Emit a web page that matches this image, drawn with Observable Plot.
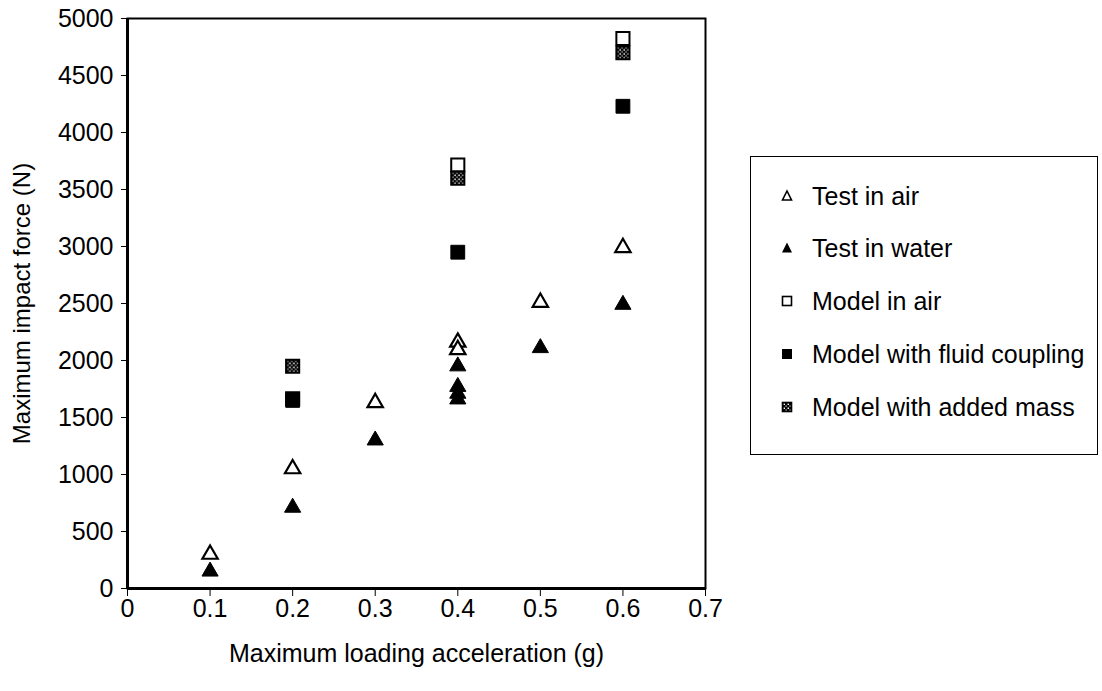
<!DOCTYPE html>
<html><head><meta charset="utf-8">
<script src="https://cdn.jsdelivr.net/npm/d3@7"></script>
<script src="https://cdn.jsdelivr.net/npm/@observablehq/plot@0.6"></script>
<style>
body{margin:0;background:#fff;font-family:"Liberation Sans",Arial,sans-serif;}
#wrap{position:relative;width:1102px;height:691px;}
#legend{position:absolute;left:750px;top:156px;width:348px;height:299px;border:1.5px solid #000;box-sizing:border-box;background:#fff;}
.mk{position:absolute;left:28px;width:16px;height:16px;}
.lt{position:absolute;left:61px;font-size:25px;line-height:30px;white-space:nowrap;color:#000;}
</style></head><body><div id="wrap"></div>
<script>
// ---- data ----
const seriesNames = ["Test in air","Test in water","Model in air","Model with fluid coupling","Model with added mass"];
const testAirX = [0.1, 0.2, 0.3, 0.4, 0.4, 0.5, 0.6];
const testAirY = [300, 1050, 1630, 2160, 2095, 2510, 2990];
const testWaterX = [0.1, 0.2, 0.3, 0.4, 0.4, 0.4, 0.4, 0.5, 0.6];
const testWaterY = [150, 710, 1300, 1950, 1770, 1710, 1660, 2110, 2490];
const modelAirX = [0.2, 0.4, 0.6];
const modelAirY = [1665, 3715, 4825];
const fluidX = [0.2, 0.4, 0.6];
const fluidY = [1650, 2950, 4230];
const addedX = [0.2, 0.4, 0.6];
const addedY = [1950, 3600, 4700];
const xTicks = [0, 0.1, 0.2, 0.3, 0.4, 0.5, 0.6, 0.7];
const yTicks = [0, 500, 1000, 1500, 2000, 2500, 3000, 3500, 4000, 4500, 5000];
const xLabel = "Maximum loading acceleration (g)";
const yLabel = "Maximum impact force (N)";

const pts = (xs, ys) => xs.map((x, i) => ({x, y: ys[i]}));

const chart = Plot.plot({
  width: 1102, height: 691,
  marginLeft: 127, marginRight: 397, marginTop: 18, marginBottom: 103,
  style: {fontFamily: "'Liberation Sans', Arial, sans-serif", fontSize: "25px", color: "#000", background: "#fff", overflow: "visible"},
  x: {domain: [0, 0.7], ticks: xTicks, tickFormat: d => d === 0 ? "0" : d.toFixed(1), tickSize: 8, tickPadding: 3, label: null},
  y: {domain: [0, 5000], ticks: yTicks, tickFormat: d => String(d), tickSize: 6, tickPadding: 8, label: null},
  marks: [
    Plot.frame({stroke: "#000", strokeWidth: 2}),
    Plot.ruleX([0], {stroke: "#000", strokeWidth: 3}),
    Plot.ruleY([0], {stroke: "#000", strokeWidth: 3}),
    Plot.text([xLabel], {frameAnchor: "bottom", dy: 73, text: d => d, fontSize: 25}),
    Plot.text([yLabel], {frameAnchor: "left", dx: -105, rotate: -90, textAnchor: "middle", text: d => d, fontSize: 24}),
    Plot.dot(pts(testAirX, testAirY), {x: "x", y: "y", symbol: "triangle", r: 5.7, stroke: "#000", strokeWidth: 2.2, fill: "#fff"}),
    Plot.dot(pts(testWaterX, testWaterY), {x: "x", y: "y", symbol: "triangle", r: 6, stroke: "#000", strokeWidth: 1, fill: "#000"}),
    Plot.dot(pts(modelAirX, modelAirY), {x: "x", y: "y", symbol: "square", r: 7.4, stroke: "#000", strokeWidth: 2, fill: "#fff"}),
    Plot.dot(pts(fluidX, fluidY), {x: "x", y: "y", symbol: "square", r: 7.8, stroke: "#000", strokeWidth: 1, fill: "#000"}),
    Plot.dot(pts(addedX, addedY), {x: "x", y: "y", symbol: "square", r: 7.4, stroke: "#000", strokeWidth: 2, fill: "url(#hatch)"})
  ]
});

// hatch pattern
const svg = d3.select(chart);
const defs = svg.insert("defs", ":first-child");
const pat = defs.append("pattern").attr("id", "hatch").attr("patternUnits", "userSpaceOnUse").attr("width", 4).attr("height", 4);
pat.append("rect").attr("width", 4).attr("height", 4).attr("fill", "#000");
pat.append("rect").attr("x", 0.5).attr("y", 0.5).attr("width", 1.5).attr("height", 1.5).attr("fill", "#fff");
pat.append("rect").attr("x", 2.5).attr("y", 2.5).attr("width", 1.2).attr("height", 1.2).attr("fill", "#fff");

const wrap = document.getElementById("wrap");
wrap.appendChild(chart);

// legend
const legend = document.createElement("div");
legend.id = "legend";
const rowY = [39, 91, 144, 197, 250];
const mkSvg = [
  '<svg width="16" height="16"><path d="M8,3 L12.5,12 L3.5,12 Z" fill="#fff" stroke="#000" stroke-width="1.6"/></svg>',
  '<svg width="16" height="16"><path d="M8,2.5 L13,12.5 L3,12.5 Z" fill="#000"/></svg>',
  '<svg width="16" height="16"><rect x="3.5" y="3.5" width="9" height="9" fill="#fff" stroke="#000" stroke-width="1.6"/></svg>',
  '<svg width="16" height="16"><rect x="3" y="3" width="10" height="10" fill="#000"/></svg>',
  '<svg width="16" height="16"><rect x="3.5" y="3.5" width="9" height="9" fill="url(#hatch)" stroke="#000" stroke-width="1.6"/></svg>'
];
seriesNames.forEach((name, i) => {
  const m = document.createElement("div");
  m.className = "mk"; m.style.top = (rowY[i] - 8) + "px"; m.innerHTML = mkSvg[i];
  legend.appendChild(m);
  const t = document.createElement("div");
  t.className = "lt"; t.style.top = (rowY[i] - 15) + "px"; t.textContent = name;
  legend.appendChild(t);
});
wrap.appendChild(legend);
</script>
</body></html>
